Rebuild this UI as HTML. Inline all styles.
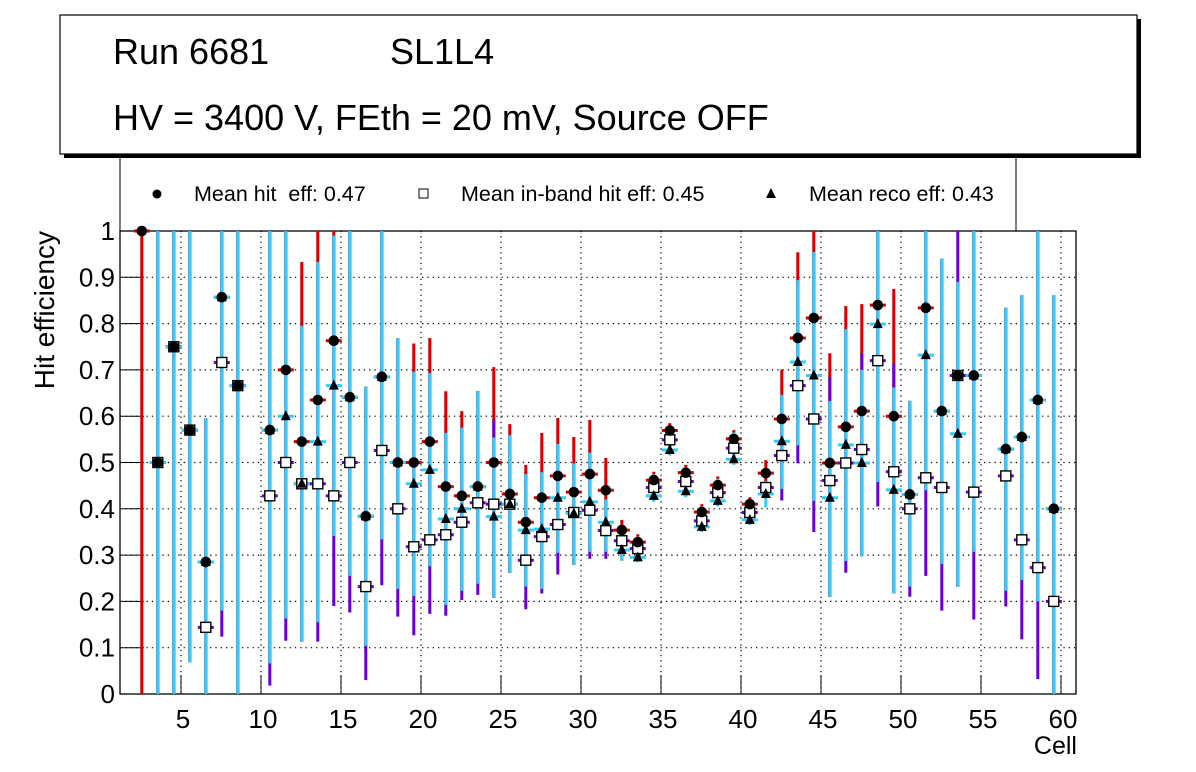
<!DOCTYPE html>
<html><head><meta charset="utf-8"><style>
html,body{margin:0;padding:0;background:#fff;}
svg{display:block;font-family:"Liberation Sans",Arial,sans-serif;}
</style></head><body>
<svg id="chart" width="1196" height="772" viewBox="0 0 1196 772" xmlns="http://www.w3.org/2000/svg">
<rect x="64" y="19" width="1077" height="139" fill="#000"/>
<rect x="60" y="15" width="1077" height="139" fill="#fff" stroke="#000" stroke-width="1.2"/>
<text x="113" y="64" font-size="36">Run 6681</text>
<text x="390" y="64" font-size="36">SL1L4</text>
<text x="113" y="130" font-size="36">HV = 3400 V, FEth = 20 mV, Source OFF</text>
<g>
<line x1="120" y1="158" x2="120" y2="231" stroke="#000" stroke-width="1"/>
<line x1="1016" y1="158" x2="1016" y2="231" stroke="#000" stroke-width="1"/>
<circle cx="157" cy="194" r="4.5" fill="#000"/>
<text x="194" y="201" font-size="21.5" xml:space="preserve">Mean hit  eff: 0.47</text>
<rect x="419" y="189" width="9" height="9" fill="#fff" stroke="#000"/>
<text x="461" y="201" font-size="21.5">Mean in-band hit eff: 0.45</text>
<polygon points="771,188 776,198 766,198" fill="#000"/>
<text x="809" y="201" font-size="21.5">Mean reco eff: 0.43</text>
</g>
<g id="grid"></g>
<g id="axes"></g>
<g id="bars"></g>
<g id="marks"></g>
<text transform="translate(54,231) rotate(-90)" text-anchor="end" font-size="28">Hit efficiency</text>
<text x="1077" y="754" text-anchor="end" font-size="25">Cell</text>
</svg>
<script>
const cells = [2,3,4,5,6,7,8,9,10,11,12,13,14,15,16,17,18,19,20,21,22,23,24,25,26,27,28,29,30,31,32,33,34,35,36,37,38,39,40,41,42,43,44,45,46,47,48,49,50,51,52,53,54,55,56,57,58,59];
const hitEff = [1.0,0.5,0.75,0.57,0.285,0.857,0.666,null,0.57,0.70,0.545,0.635,0.763,0.641,0.384,0.685,0.5,0.5,0.545,0.448,0.428,0.448,0.5,0.432,0.371,0.424,0.471,0.436,0.475,0.44,0.354,0.328,0.462,0.569,0.478,0.393,0.451,0.551,0.41,0.477,0.594,0.769,0.812,0.499,0.577,0.611,0.84,0.6,0.431,0.834,0.611,0.688,0.688,null,0.529,0.555,0.635,0.4];
const inbandEff = [null,0.5,0.75,0.57,0.144,0.716,0.666,null,0.428,0.5,0.454,0.454,0.428,0.5,0.232,0.526,0.4,0.318,0.333,0.344,0.371,0.413,0.41,0.41,0.289,0.34,0.366,0.392,0.397,0.353,0.331,0.314,0.446,0.549,0.459,0.374,0.435,0.531,0.392,0.446,0.515,0.666,0.594,0.461,0.499,0.528,0.72,0.48,0.4,0.467,0.446,0.688,0.436,null,0.471,0.333,0.273,0.2];
const recoEff = [null,0.5,0.75,0.57,0.285,0.857,0.666,null,0.57,0.60,0.454,0.545,0.666,0.641,0.384,0.685,0.5,0.454,0.484,0.378,0.40,0.448,0.383,0.41,0.354,0.356,0.424,0.39,0.415,0.371,0.311,0.295,0.428,0.527,0.438,0.361,0.417,0.507,0.376,0.432,0.546,0.717,0.688,0.424,0.538,0.499,0.799,0.441,0.431,0.732,0.611,0.562,0.688,null,0.529,0.555,0.635,0.4];
const recoHi = [null,1,1,1,0.596,1,1,null,1,1,0.795,0.933,0.99,1,0.664,1,0.769,0.696,0.693,0.564,0.575,0.654,0.554,0.559,0.475,0.479,0.54,0.498,0.521,0.42,0.34,0.34,0.475,0.58,0.49,0.405,0.465,0.565,0.42,0.46,0.646,0.894,0.955,0.633,0.788,0.7,1,0.662,0.633,1,0.94,0.89,1,null,0.834,0.861,1,0.861];
const recoLo = [null,0,0,0.068,0,0.18,0,null,0.066,0.163,0.113,0.155,0.341,0.255,0.104,0.334,0.227,0.212,0.276,0.192,0.223,0.238,0.208,0.262,0.232,0.227,0.305,0.279,0.307,0.307,0.288,0.285,0.415,0.515,0.425,0.35,0.405,0.495,0.365,0.403,0.443,0.537,0.417,0.21,0.287,0.297,0.458,0.217,0.232,0.44,0.281,0.232,0.307,null,0.223,0.246,0.2,0];
const hitHi = [1,1,1,1,0.596,1,1,null,1,1,0.933,1,1,1,0.664,1,0.769,0.757,0.769,0.654,0.611,0.654,0.706,0.583,0.495,0.564,0.596,0.555,0.592,0.51,0.376,0.345,0.48,0.585,0.495,0.41,0.47,0.57,0.425,0.505,0.701,0.954,1,0.736,0.838,0.842,1,0.875,0.633,1,0.94,0.89,1,null,0.834,0.861,1,0.861];
const hitLo = [0,0,0,0.068,0,0.18,0,null,0.066,0.163,0.113,0.155,0.341,0.255,0.104,0.334,0.227,0.212,0.276,0.192,0.223,0.238,0.208,0.262,0.232,0.227,0.305,0.279,0.307,0.307,0.288,0.31,0.445,0.55,0.46,0.375,0.435,0.535,0.39,0.43,0.443,0.537,0.417,0.21,0.287,0.297,0.458,0.217,0.232,0.44,0.281,0.232,0.307,null,0.223,0.246,0.2,0];
const inbandHi = [null,1,1,1,0.596,1,1,null,1,1,0.795,0.933,0.99,1,0.664,1,0.769,0.696,0.693,0.564,0.575,0.654,0.592,0.559,0.475,0.479,0.54,0.498,0.521,0.42,0.34,0.33,0.46,0.565,0.475,0.39,0.45,0.55,0.41,0.46,0.646,0.894,0.955,0.684,0.788,0.736,1,0.714,0.633,1,0.94,1,1,null,0.834,0.861,1,0.861];
const inbandLo = [null,0,0,0.068,0,0.124,0,null,0.018,0.115,0.113,0.113,0.19,0.176,0.03,0.235,0.167,0.127,0.173,0.169,0.203,0.214,0.208,0.262,0.183,0.217,0.258,0.279,0.292,0.292,0.31,0.298,0.43,0.532,0.44,0.358,0.418,0.512,0.375,0.43,0.418,0.498,0.35,0.21,0.262,0.297,0.405,0.217,0.21,0.255,0.18,0.232,0.161,null,0.189,0.118,0.032,0];
const yTicks = [0,0.1,0.2,0.3,0.4,0.5,0.6,0.7,0.8,0.9,1];
const yTickLabels = ["0","0.1","0.2","0.3","0.4","0.5","0.6","0.7","0.8","0.9","1"];
const xTicks = [5,10,15,20,25,30,35,40,45,50,55,60];
const xTickLabels = ["5","10","15","20","25","30","35","40","45","50","55","60"];

const PL=120, PR=1076, PT=231, PB=694;
function xAxis(v){ return 181 + (v-5)*16; }
function xCell(c){ return xAxis(c + 0.55); }
function yAxis(v){ return PB - (PB-PT)*v; }
const NS="http://www.w3.org/2000/svg";
function mk(parent, tag, attrs){ const e=document.createElementNS(NS,tag); for(const k in attrs) e.setAttribute(k,attrs[k]); parent.appendChild(e); return e; }

const grid=document.getElementById('grid'), axes=document.getElementById('axes');
const bars=document.getElementById('bars'), marks=document.getElementById('marks');
mk(grid,'rect',{x:PL,y:PT,width:PR-PL,height:PB-PT,fill:'#fff'});
yTicks.forEach((t,i)=>{
  const y=yAxis(t);
  if(t>0 && t<1){ const g=mk(grid,'line',{x1:PL,x2:PR,y1:y,y2:y,stroke:'#000','stroke-width':1.2,'stroke-dasharray':'1.3,4'});
    }
  const tk=mk(axes,'line',{x1:PL,x2:PL+24,y1:y,y2:y,stroke:'#000','stroke-width':1});
   
  const lb=mk(axes,'text',{x:PL-5,y:y+9,'text-anchor':'end','font-size':26});
  lb.textContent=yTickLabels[i];
   
});
xTicks.forEach((t,i)=>{
  const x=xAxis(t);
  const g=mk(grid,'line',{x1:x,x2:x,y1:PT,y2:PB,stroke:'#000','stroke-width':1.2,'stroke-dasharray':'1.3,4'});
   
  const tk=mk(axes,'line',{x1:x,x2:x,y1:PB,y2:PB-19,stroke:'#000','stroke-width':1});
   
  const lb=mk(axes,'text',{x:x+2,y:PB+34,'text-anchor':'middle','font-size':26});
  lb.textContent=xTickLabels[i];
   
});
const frame=mk(axes,'rect',{x:PL,y:PT,width:PR-PL,height:PB-PT,fill:'none',stroke:'#000','stroke-width':1.3});
 

const RED='#d40000', PUR='#6a00d0', CYA='#33ccf5';
function errbar(vals,lo,hi,col,name){
  cells.forEach((c,i)=>{
    if(vals[i]==null) return;
    const x=xCell(c), y=yAxis(vals[i]);
    const v=mk(bars,'line',{x1:x,x2:x,y1:yAxis(lo[i]),y2:yAxis(hi[i]),stroke:col,'stroke-width':3});
     
    const h=mk(bars,'line',{x1:x-8,x2:x+8,y1:y,y2:y,stroke:col,'stroke-width':3});
     
  });
}
errbar(hitEff,hitLo,hitHi,RED,'hit');
errbar(inbandEff,inbandLo,inbandHi,PUR,'inband');
errbar(recoEff,recoLo,recoHi,CYA,'reco');

cells.forEach((c,i)=>{
  if(inbandEff[i]==null) return;
  const x=xCell(c), y=yAxis(inbandEff[i]);
  const r=mk(marks,'rect',{x:x-5,y:y-5,width:10,height:10,fill:'#fff',stroke:'#000','stroke-width':1.4});
   
});
cells.forEach((c,i)=>{
  if(hitEff[i]==null) return;
  const p=mk(marks,'circle',{cx:xCell(c),cy:yAxis(hitEff[i]),r:5.3,fill:'#000'});
   
});
cells.forEach((c,i)=>{
  if(recoEff[i]==null) return;
  const x=xCell(c), y=yAxis(recoEff[i]);
  const t=mk(marks,'polygon',{points:`${x},${y-6} ${x+5},${y+4} ${x-5},${y+4}`,fill:'#000'});
   
});
</script>
</body></html>
